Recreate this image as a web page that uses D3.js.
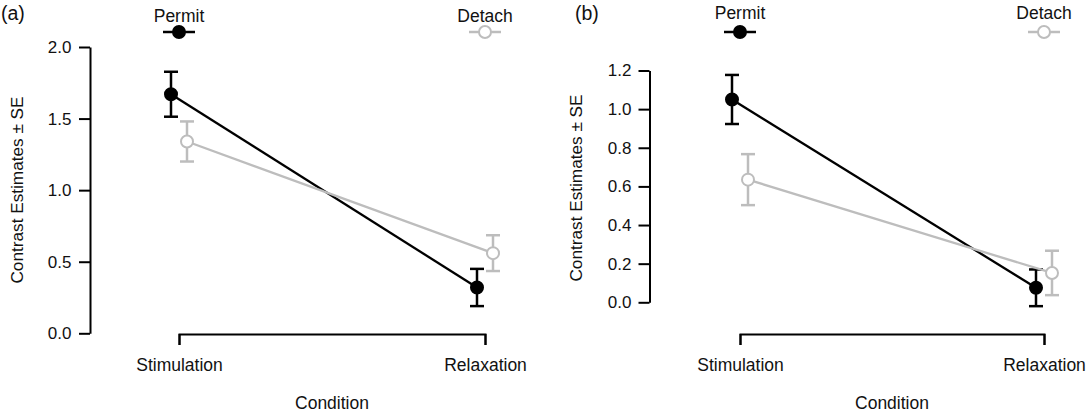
<!DOCTYPE html>
<html>
<head>
<meta charset="utf-8">
<script src="https://cdn.jsdelivr.net/npm/d3@7.9.0/dist/d3.min.js"></script>
<style>
  body { margin: 0; background: #fff; }
  svg text { font-family: "Liberation Sans", Arial, Helvetica, sans-serif; fill: #111; }
</style>
</head>
<body>
<svg id="chart" width="1087" height="412"></svg>
<script>
// categories and groups
const conditions = ['Stimulation', 'Relaxation'];
const groups = ['Permit', 'Detach'];

// panel (a) estimates and standard errors, per condition
const aPermit = [1.67, 0.32];
const aPermitSE = [0.157, 0.13];
const aDetach = [1.34, 0.56];
const aDetachSE = [0.14, 0.125];
const aTicks = [0, 0.5, 1.0, 1.5, 2.0];

// panel (b)
const bPermit = [1.05, 0.075];
const bPermitSE = [0.127, 0.095];
const bDetach = [0.635, 0.152];
const bDetachSE = [0.132, 0.115];
const bTicks = [0, 0.2, 0.4, 0.6, 0.8, 1.0, 1.2];

const svg = d3.select('#chart');
const grey = '#bdbdbd';
const labelSize = 17.5;

function drawPanel(opts) {
  const g = svg.append('g');

  const x = d3.scalePoint().domain(conditions).range(opts.xRange);
  const y = d3.scaleLinear().domain(opts.yDomain).range(opts.yRange);
  const dodge = d3.scalePoint().domain(groups).range([-8, 8]);

  // y axis
  const yAxis = g.append('g')
    .attr('transform', `translate(${opts.axisX},0)`)
    .call(d3.axisLeft(y).tickValues(opts.ticks).tickFormat(d3.format('.1f'))
      .tickSize(11).tickSizeOuter(0).tickPadding(opts.tickPad));
  yAxis.select('.domain').attr('stroke', '#000').attr('stroke-width', 2);
  yAxis.selectAll('.tick line').attr('stroke', '#000').attr('stroke-width', 2);
  yAxis.selectAll('.tick text').attr('font-size', 17).attr('font-family', null).attr('fill', '#111');

  // x axis bracket
  const xAxis = g.append('g')
    .attr('transform', 'translate(0,334)')
    .call(d3.axisBottom(x).tickSize(11).tickSizeOuter(11).tickPadding(13.6));
  xAxis.select('.domain').attr('stroke', '#000').attr('stroke-width', 2).attr('fill', 'none');
  xAxis.selectAll('.tick line').attr('stroke', '#000').attr('stroke-width', 2);
  xAxis.selectAll('.tick text').attr('font-size', labelSize).attr('font-family', null).attr('fill', '#111');

  // axis titles
  g.append('text')
    .attr('transform', `translate(${opts.axisX - 67.5},${opts.yLabelY}) rotate(-90)`)
    .attr('text-anchor', 'middle')
    .attr('font-size', 17.2)
    .text('Contrast Estimates \u00b1 SE');

  g.append('text')
    .attr('x', (opts.xRange[0] + opts.xRange[1]) / 2)
    .attr('y', 408.5)
    .attr('text-anchor', 'middle')
    .attr('font-size', labelSize)
    .text('Condition');

  g.append('text')
    .attr('x', opts.labelX)
    .attr('y', 20)
    .attr('font-size', 19.5)
    .text(opts.label);

  const series = [
    { name: 'Permit', values: opts.permit, se: opts.permitSE, color: '#000', fill: '#000' },
    { name: 'Detach', values: opts.detach, se: opts.detachSE, color: grey, fill: '#fff' },
  ];

  const line = d3.line()
    .x((d) => d.x)
    .y((d) => d.y);

  series.forEach((s) => {
    const pts = s.values.map((v, i) => ({
      x: x(conditions[i]) + dodge(s.name),
      y: y(v),
      lo: y(v - s.se[i]),
      hi: y(v + s.se[i]),
    }));

    g.append('path')
      .attr('d', line(pts))
      .attr('fill', 'none')
      .attr('stroke', s.color)
      .attr('stroke-width', 2.3);

    pts.forEach((p) => {
      g.append('line')
        .attr('x1', p.x).attr('x2', p.x)
        .attr('y1', p.lo).attr('y2', p.hi)
        .attr('stroke', s.color).attr('stroke-width', 2.5);
      [p.lo, p.hi].forEach((yy) => {
        g.append('line')
          .attr('x1', p.x - 7).attr('x2', p.x + 7)
          .attr('y1', yy).attr('y2', yy)
          .attr('stroke', s.color).attr('stroke-width', 2.5);
      });
    });

    pts.forEach((p) => {
      g.append('circle')
        .attr('cx', p.x).attr('cy', p.y).attr('r', 6)
        .attr('fill', s.fill)
        .attr('stroke', s.color)
        .attr('stroke-width', 2);
    });

    // legend above each condition
    const lx = x(conditions[groups.indexOf(s.name)]);
    g.append('text')
      .attr('x', lx)
      .attr('y', opts.legendTextY)
      .attr('text-anchor', 'middle')
      .attr('font-size', labelSize)
      .text(s.name);
    g.append('line')
      .attr('x1', lx - 16).attr('x2', lx + 16)
      .attr('y1', 32).attr('y2', 32)
      .attr('stroke', s.color).attr('stroke-width', 2.5);
    g.append('circle')
      .attr('cx', lx).attr('cy', 32).attr('r', 6)
      .attr('fill', s.fill)
      .attr('stroke', s.color)
      .attr('stroke-width', 2);
  });
}

drawPanel({
  label: '(a)', labelX: 1,
  xRange: [179, 485], axisX: 90, tickPad: 7.5,
  yDomain: [0, 2], yRange: [333.3, 47], ticks: aTicks, yLabelY: 190,
  legendTextY: 22,
  permit: aPermit, permitSE: aPermitSE, detach: aDetach, detachSE: aDetachSE,
});

drawPanel({
  label: '(b)', labelX: 575,
  xRange: [740, 1044], axisX: 649.5, tickPad: 7,
  yDomain: [0, 1.2], yRange: [302.3, 70.5], ticks: bTicks, yLabelY: 188,
  legendTextY: 18.5,
  permit: bPermit, permitSE: bPermitSE, detach: bDetach, detachSE: bDetachSE,
});
</script>
</body>
</html>
